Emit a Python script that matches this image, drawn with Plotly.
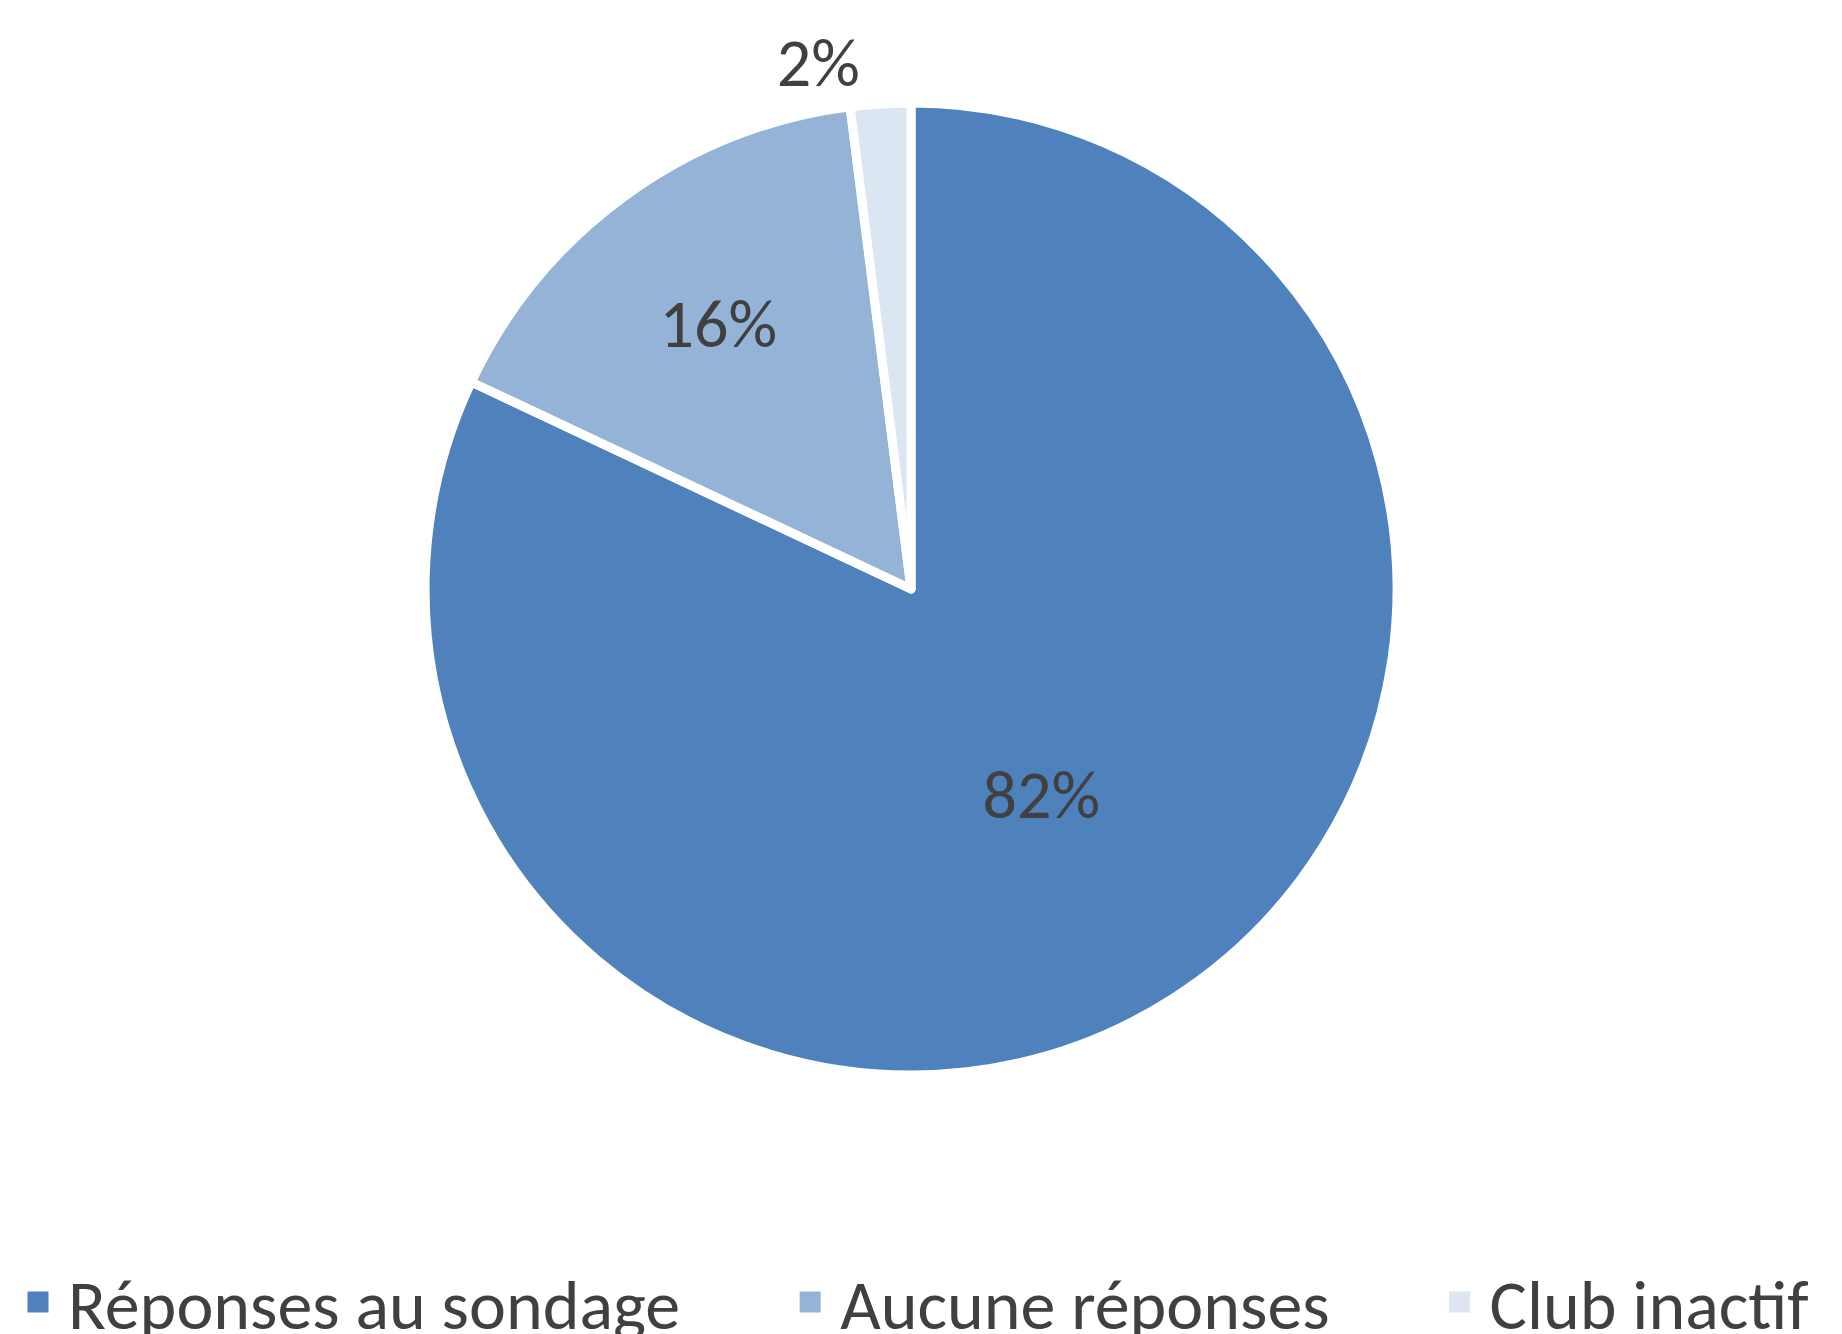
import plotly.graph_objects as go

labels = ["Réponses au sondage", "Aucune réponses", "Club inactif"]
values = [82, 16, 2]
colors = ["#4F81BD", "#95B3D7", "#DCE6F2"]
text_pos = ["inside", "inside", "outside"]

W, H = 1842, 1334
font_family = "Carlito, Calibri, Liberation Sans Narrow, Liberation Sans, Arial, sans-serif"
pad = "\u00a0" * 6

fig = go.Figure()

fig.add_trace(go.Pie(
    labels=labels,
    values=values,
    sort=False,
    direction="clockwise",
    rotation=0,
    marker=dict(colors=colors, line=dict(color="white", width=9)),
    textinfo="percent",
    textposition=text_pos,
    insidetextorientation="horizontal",
    textfont=dict(size=68, color="#404040", family=font_family),
    outsidetextfont=dict(size=68, color="#404040", family=font_family),
    domain=dict(x=[0.2264, 0.7541], y=[0.2002, 0.9288]),
    showlegend=False,
    hoverinfo="label+percent",
))

# legend entries with bigger square symbols than the pie legend gives
for i, (name, col) in enumerate(zip(labels, colors)):
    fig.add_trace(go.Scatter(
        x=[None], y=[None],
        mode="markers",
        name=name + (pad if i < len(labels) - 1 else ""),
        marker=dict(symbol="square", size=16, color=col, line=dict(color=col, width=5)),
        hoverinfo="skip",
    ))

fig.update_layout(
    width=W,
    height=H,
    paper_bgcolor="white",
    plot_bgcolor="white",
    margin=dict(l=0, r=0, t=0, b=0, autoexpand=False),
    font=dict(family=font_family, color="#404040"),
    xaxis=dict(visible=False),
    yaxis=dict(visible=False),
    showlegend=True,
    legend=dict(
        orientation="h",
        x=0, xanchor="left",
        y=0.03, yanchor="middle",
        font=dict(size=70, color="#404040", family=font_family),
        itemwidth=50,
    ),
)

fig.write_html("out.html")
